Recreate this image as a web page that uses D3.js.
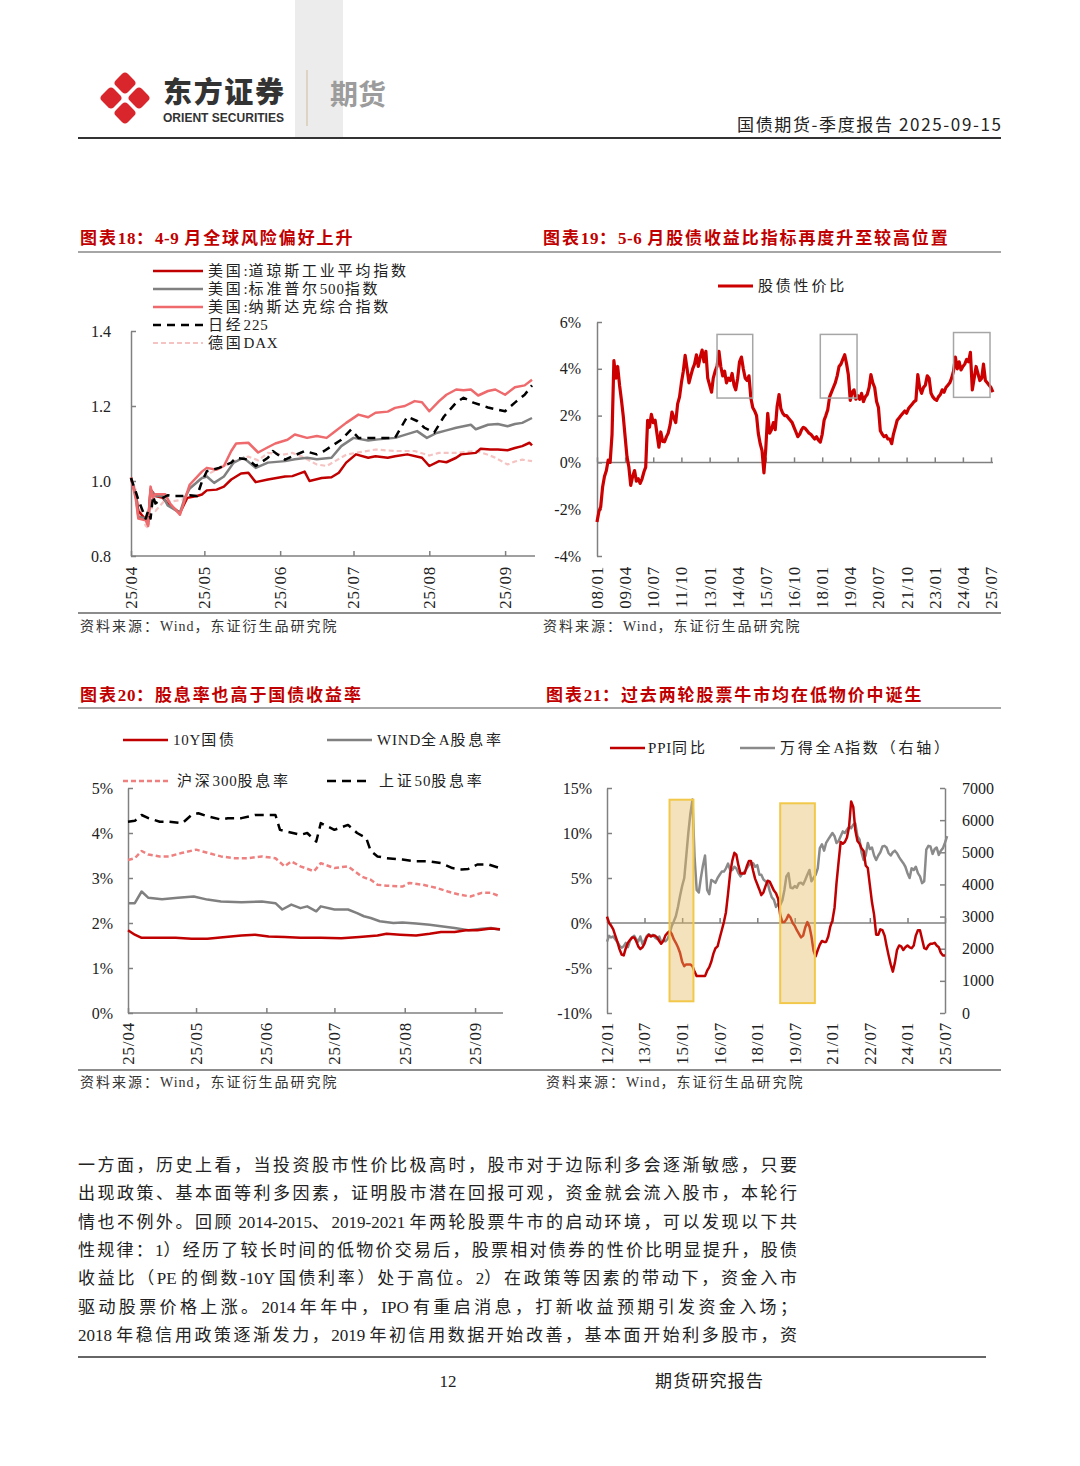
<!DOCTYPE html>
<html><head><meta charset="utf-8">
<script src="https://cdn.jsdelivr.net/npm/d3@7"></script>
<style>body{margin:0;background:#fff;}svg{display:block;}</style>
</head><body>
<script>
// ---------------- DATA ----------------
const c18Names = ["美国:道琼斯工业平均指数","美国:标准普尔500指数","美国:纳斯达克综合指数","日经225","德国DAX"];
const c18Ticks = ["25/04","25/05","25/06","25/07","25/08","25/09"];
const c18YTicks = [0.8,1.0,1.2,1.4];
const dowJones = [["2025-04-01",1.008],["2025-04-03",0.96],["2025-04-04",0.92],["2025-04-07",0.897],["2025-04-08",0.893],["2025-04-09",0.977],["2025-04-11",0.96],["2025-04-14",0.955],["2025-04-16",0.94],["2025-04-21",0.915],["2025-04-24",0.955],["2025-04-28",0.96],["2025-04-30",0.964],["2025-05-02",0.975],["2025-05-06",0.977],["2025-05-09",0.985],["2025-05-12",1.004],["2025-05-14",1.012],["2025-05-16",1.02],["2025-05-19",1.022],["2025-05-22",0.997],["2025-05-27",1.004],["2025-06-03",1.012],["2025-06-06",1.013],["2025-06-11",1.025],["2025-06-13",1.0],["2025-06-18",1.008],["2025-06-22",1.01],["2025-06-25",1.022],["2025-06-28",1.049],["2025-07-02",1.071],["2025-07-07",1.062],["2025-07-10",1.066],["2025-07-15",1.062],["2025-07-18",1.066],["2025-07-23",1.071],["2025-07-29",1.062],["2025-08-01",1.04],["2025-08-05",1.053],["2025-08-08",1.05],["2025-08-12",1.062],["2025-08-14",1.071],["2025-08-20",1.075],["2025-08-22",1.086],["2025-08-26",1.084],["2025-08-29",1.084],["2025-09-02",1.082],["2025-09-05",1.088],["2025-09-08",1.093],["2025-09-11",1.102],["2025-09-12",1.095]];
const sp500 = [["2025-04-01",1.008],["2025-04-03",0.96],["2025-04-04",0.905],["2025-04-07",0.9],["2025-04-08",0.885],["2025-04-09",0.975],["2025-04-11",0.96],["2025-04-14",0.96],["2025-04-16",0.935],["2025-04-21",0.915],["2025-04-23",0.955],["2025-04-25",0.98],["2025-04-30",1.008],["2025-05-02",1.012],["2025-05-05",0.995],["2025-05-09",1.012],["2025-05-13",1.049],["2025-05-17",1.062],["2025-05-22",1.035],["2025-05-27",1.049],["2025-06-03",1.053],["2025-06-07",1.058],["2025-06-12",1.062],["2025-06-16",1.058],["2025-06-22",1.062],["2025-06-26",1.093],["2025-07-01",1.115],["2025-07-07",1.108],["2025-07-11",1.111],["2025-07-18",1.115],["2025-07-23",1.125],["2025-07-27",1.133],["2025-07-31",1.115],["2025-08-04",1.128],["2025-08-08",1.135],["2025-08-12",1.142],["2025-08-18",1.15],["2025-08-20",1.138],["2025-08-25",1.15],["2025-08-29",1.152],["2025-09-02",1.146],["2025-09-05",1.152],["2025-09-08",1.155],["2025-09-12",1.168]];
const nasdaq = [["2025-04-01",1.01],["2025-04-03",0.95],["2025-04-04",0.9],["2025-04-07",0.895],["2025-04-08",0.88],["2025-04-09",0.985],["2025-04-10",0.955],["2025-04-11",0.965],["2025-04-15",0.965],["2025-04-17",0.94],["2025-04-21",0.91],["2025-04-23",0.95],["2025-04-25",0.99],["2025-04-30",1.025],["2025-05-02",1.035],["2025-05-06",1.03],["2025-05-09",1.04],["2025-05-12",1.08],["2025-05-14",1.1],["2025-05-19",1.102],["2025-05-23",1.076],["2025-05-27",1.09],["2025-05-30",1.1],["2025-06-04",1.11],["2025-06-07",1.124],["2025-06-12",1.115],["2025-06-16",1.12],["2025-06-20",1.115],["2025-06-23",1.13],["2025-06-28",1.155],["2025-07-03",1.177],["2025-07-07",1.17],["2025-07-10",1.182],["2025-07-15",1.185],["2025-07-18",1.195],["2025-07-22",1.2],["2025-07-26",1.213],["2025-07-29",1.21],["2025-08-01",1.186],["2025-08-05",1.213],["2025-08-08",1.23],["2025-08-12",1.244],["2025-08-15",1.242],["2025-08-18",1.244],["2025-08-21",1.228],["2025-08-25",1.24],["2025-08-28",1.244],["2025-09-01",1.23],["2025-09-05",1.25],["2025-09-09",1.255],["2025-09-12",1.27]];
const nikkei = [["2025-04-01",1.008],["2025-04-03",0.97],["2025-04-04",0.95],["2025-04-07",0.9],["2025-04-08",0.92],["2025-04-09",0.9],["2025-04-10",0.96],["2025-04-11",0.94],["2025-04-14",0.955],["2025-04-16",0.962],["2025-04-18",0.96],["2025-04-22",0.96],["2025-04-25",0.962],["2025-04-28",0.96],["2025-04-30",0.998],["2025-05-02",1.026],["2025-05-07",1.035],["2025-05-12",1.049],["2025-05-14",1.062],["2025-05-19",1.057],["2025-05-22",1.04],["2025-05-27",1.062],["2025-05-29",1.08],["2025-06-03",1.057],["2025-06-11",1.08],["2025-06-16",1.071],["2025-06-19",1.08],["2025-06-26",1.11],["2025-06-30",1.137],["2025-07-03",1.115],["2025-07-11",1.115],["2025-07-18",1.115],["2025-07-23",1.172],["2025-07-27",1.16],["2025-07-30",1.142],["2025-08-03",1.129],["2025-08-07",1.172],["2025-08-12",1.209],["2025-08-15",1.222],["2025-08-19",1.209],["2025-08-25",1.196],["2025-09-01",1.186],["2025-09-05",1.209],["2025-09-09",1.23],["2025-09-12",1.255]];
const dax = [["2025-04-01",1.008],["2025-04-03",0.975],["2025-04-04",0.94],["2025-04-07",0.88],["2025-04-08",0.875],["2025-04-09",0.93],["2025-04-11",0.92],["2025-04-15",0.95],["2025-04-17",0.945],["2025-04-22",0.95],["2025-04-25",0.98],["2025-04-30",1.01],["2025-05-06",1.03],["2025-05-12",1.05],["2025-05-14",1.055],["2025-05-19",1.065],["2025-05-23",1.055],["2025-05-27",1.075],["2025-06-02",1.07],["2025-06-06",1.075],["2025-06-10",1.065],["2025-06-16",1.044],["2025-06-20",1.04],["2025-06-24",1.055],["2025-06-28",1.07],["2025-07-02",1.075],["2025-07-10",1.084],["2025-07-18",1.08],["2025-07-26",1.08],["2025-08-01",1.068],["2025-08-05",1.075],["2025-08-12",1.075],["2025-08-20",1.08],["2025-08-25",1.07],["2025-08-28",1.062],["2025-09-02",1.044],["2025-09-05",1.052],["2025-09-08",1.057],["2025-09-12",1.053]];

const c19Name = "股债性价比";
const c19Ticks = ["08/01","09/04","10/07","11/10","13/01","14/04","15/07","16/10","18/01","19/04","20/07","21/10","23/01","24/04","25/07"];
const c19YTicks = [-4,-2,0,2,4,6];
const stockBondRatio = [["2008-01",-2.55],["2008-02",-2.1],["2008-03",-1.9],["2008-04",-1.05],["2008-05",-0.6],["2008-06",-0.35],["2008-07",0.1],["2008-08",0.0],["2008-09",1.2],["2008-10",4.35],["2008-11",3.6],["2008-12",4.1],["2009-01",3.3],["2009-02",2.65],["2009-03",2.0],["2009-04",1.1],["2009-05",0.25],["2009-06",-0.2],["2009-07",-0.98],["2009-08",-0.6],["2009-09",-0.35],["2009-10",-0.8],["2009-11",-0.7],["2009-12",-0.9],["2010-01",-0.7],["2010-02",-0.4],["2010-03",-0.2],["2010-04",1.8],["2010-05",1.5],["2010-06",2.05],["2010-07",1.7],["2010-08",1.8],["2010-09",1.2],["2010-10",0.65],["2010-11",1.3],["2010-12",0.9],["2011-01",0.88],["2011-02",1.1],["2011-03",1.25],["2011-04",1.6],["2011-05",2.15],["2011-06",1.9],["2011-07",1.7],["2011-08",2.5],["2011-09",2.8],["2011-10",3.4],["2011-11",3.9],["2011-12",4.57],["2012-01",4.0],["2012-02",3.4],["2012-03",3.7],["2012-04",4.0],["2012-05",4.2],["2012-06",4.6],["2012-07",4.1],["2012-08",4.5],["2012-09",4.8],["2012-10",4.3],["2012-11",4.75],["2012-12",3.6],["2013-01",3.3],["2013-02",3.0],["2013-03",3.6],["2013-04",3.9],["2013-05",4.1],["2013-06",4.75],["2013-07",4.1],["2013-08",3.7],["2013-09",3.9],["2013-10",3.4],["2013-11",3.6],["2013-12",3.5],["2014-01",3.8],["2014-02",3.3],["2014-03",3.1],["2014-04",3.6],["2014-05",4.3],["2014-06",4.5],["2014-07",4.0],["2014-08",3.6],["2014-09",3.5],["2014-10",3.7],["2014-11",2.75],["2014-12",2.35],["2015-01",2.2],["2015-02",2.0],["2015-03",1.25],["2015-04",0.8],["2015-05",0.5],["2015-06",-0.45],["2015-07",0.6],["2015-08",2.1],["2015-09",1.25],["2015-10",1.4],["2015-11",1.7],["2015-12",1.4],["2016-01",2.4],["2016-02",2.9],["2016-03",2.3],["2016-04",2.1],["2016-05",2.0],["2016-06",2.0],["2016-07",1.9],["2016-08",1.8],["2016-09",1.7],["2016-10",1.5],["2016-11",1.3],["2016-12",1.1],["2017-01",1.2],["2017-02",1.4],["2017-03",1.5],["2017-04",1.45],["2017-05",1.35],["2017-06",1.25],["2017-07",1.2],["2017-08",1.1],["2017-09",1.0],["2017-10",1.1],["2017-11",0.95],["2017-12",0.87],["2018-01",1.2],["2018-02",1.8],["2018-03",2.0],["2018-04",2.25],["2018-05",2.8],["2018-06",3.0],["2018-07",3.2],["2018-08",3.4],["2018-09",3.7],["2018-10",4.1],["2018-11",4.2],["2018-12",4.4],["2019-01",4.6],["2019-02",4.2],["2019-03",3.75],["2019-04",2.65],["2019-05",3.0],["2019-06",3.1],["2019-07",2.7],["2019-08",2.85],["2019-09",2.7],["2019-10",2.95],["2019-11",2.6],["2019-12",2.8],["2020-01",2.9],["2020-02",3.2],["2020-03",3.75],["2020-04",3.4],["2020-05",3.2],["2020-06",2.6],["2020-07",2.35],["2020-08",1.35],["2020-09",1.2],["2020-10",1.1],["2020-11",1.15],["2020-12",1.0],["2021-01",1.0],["2021-02",0.8],["2021-03",1.2],["2021-04",1.5],["2021-05",1.8],["2021-06",1.9],["2021-07",2.0],["2021-08",2.1],["2021-09",2.2],["2021-10",2.1],["2021-11",2.3],["2021-12",2.4],["2022-01",2.5],["2022-02",2.6],["2022-03",2.65],["2022-04",3.75],["2022-05",3.2],["2022-06",2.95],["2022-07",3.2],["2022-08",3.3],["2022-09",3.7],["2022-10",3.6],["2022-11",2.95],["2022-12",2.8],["2023-01",2.7],["2023-02",2.65],["2023-03",2.8],["2023-04",2.9],["2023-05",3.1],["2023-06",3.0],["2023-07",3.2],["2023-08",3.3],["2023-09",3.4],["2023-10",3.6],["2023-11",3.9],["2023-12",4.5],["2024-01",4.0],["2024-02",4.3],["2024-03",3.95],["2024-04",4.1],["2024-05",4.2],["2024-06",4.4],["2024-07",4.3],["2024-08",4.7],["2024-09",3.1],["2024-10",3.6],["2024-11",4.1],["2024-12",3.8],["2025-01",3.5],["2025-02",3.6],["2025-03",4.2],["2025-04",3.5],["2025-05",3.4],["2025-06",3.3],["2025-07",3.2],["2025-08",3.0]];
const c19Boxes = [["2013-05-01","2014-12-01",2.75,5.47],["2017-12-01","2019-07-20",2.75,5.47],["2023-11-01","2025-06-15",2.78,5.55]];

const c20Names = ["10Y国债","WIND全A股息率","沪深300股息率","上证50股息率"];
const c20Ticks = ["25/04","25/05","25/06","25/07","25/08","25/09"];
const c20YTicks = [0,1,2,3,4,5];
const bond10y = [["2025-04-01",1.84],["2025-04-04",1.74],["2025-04-07",1.67],["2025-04-13",1.67],["2025-04-22",1.67],["2025-04-29",1.65],["2025-05-06",1.65],["2025-05-14",1.69],["2025-05-21",1.72],["2025-05-27",1.74],["2025-06-02",1.7],["2025-06-09",1.69],["2025-06-16",1.67],["2025-06-25",1.67],["2025-07-04",1.66],["2025-07-12",1.69],["2025-07-20",1.72],["2025-07-24",1.76],["2025-07-30",1.74],["2025-08-06",1.72],["2025-08-12",1.76],["2025-08-17",1.8],["2025-08-23",1.8],["2025-08-28",1.84],["2025-09-02",1.84],["2025-09-08",1.88],["2025-09-12",1.86]];
const windADiv = [["2025-04-01",2.44],["2025-04-04",2.44],["2025-04-07",2.7],["2025-04-10",2.56],["2025-04-16",2.53],["2025-04-23",2.56],["2025-04-30",2.59],["2025-05-06",2.52],["2025-05-12",2.48],["2025-05-21",2.46],["2025-05-30",2.48],["2025-06-05",2.44],["2025-06-08",2.3],["2025-06-12",2.41],["2025-06-16",2.33],["2025-06-19",2.37],["2025-06-23",2.26],["2025-06-25",2.37],["2025-07-01",2.3],["2025-07-07",2.3],["2025-07-11",2.22],["2025-07-14",2.15],["2025-07-17",2.11],["2025-07-21",2.04],["2025-07-27",2.0],["2025-07-31",2.01],["2025-08-06",1.99],["2025-08-12",1.96],["2025-08-17",1.93],["2025-08-23",1.89],["2025-08-29",1.84],["2025-09-04",1.87],["2025-09-08",1.89],["2025-09-12",1.85]];
const csi300Div = [["2025-04-01",3.4],["2025-04-04",3.44],["2025-04-07",3.6],["2025-04-10",3.52],["2025-04-15",3.48],["2025-04-19",3.48],["2025-04-25",3.56],["2025-05-01",3.63],["2025-05-06",3.56],["2025-05-12",3.48],["2025-05-18",3.44],["2025-05-24",3.44],["2025-05-30",3.48],["2025-06-05",3.44],["2025-06-09",3.26],["2025-06-12",3.37],["2025-06-16",3.26],["2025-06-22",3.15],["2025-06-25",3.33],["2025-07-01",3.22],["2025-07-07",3.26],["2025-07-11",3.11],["2025-07-13",3.03],["2025-07-17",2.96],["2025-07-20",2.85],["2025-07-24",2.83],["2025-07-31",2.81],["2025-08-03",2.89],["2025-08-09",2.85],["2025-08-15",2.78],["2025-08-20",2.7],["2025-08-25",2.63],["2025-08-30",2.59],["2025-09-04",2.67],["2025-09-08",2.67],["2025-09-12",2.59]];
const sse50Div = [["2025-04-01",4.25],["2025-04-04",4.27],["2025-04-07",4.4],["2025-04-10",4.33],["2025-04-15",4.25],["2025-04-19",4.25],["2025-04-25",4.22],["2025-04-29",4.4],["2025-05-02",4.44],["2025-05-06",4.37],["2025-05-12",4.3],["2025-05-15",4.33],["2025-05-21",4.33],["2025-05-27",4.4],["2025-06-05",4.4],["2025-06-07",4.07],["2025-06-10",4.03],["2025-06-16",3.96],["2025-06-19",4.0],["2025-06-23",3.81],["2025-06-25",4.22],["2025-07-01",4.07],["2025-07-07",4.18],["2025-07-11",4.0],["2025-07-15",3.89],["2025-07-17",3.6],["2025-07-20",3.48],["2025-07-24",3.44],["2025-07-31",3.41],["2025-08-06",3.37],["2025-08-12",3.37],["2025-08-17",3.33],["2025-08-22",3.22],["2025-08-26",3.19],["2025-08-29",3.2],["2025-09-02",3.3],["2025-09-07",3.3],["2025-09-12",3.22]];

const c21Names = ["PPI同比","万得全A指数（右轴）"];
const c21Ticks = ["12/01","13/07","15/01","16/07","18/01","19/07","21/01","22/07","24/01","25/07"];
const c21YLTicks = [-10,-5,0,5,10,15];
const c21YRTicks = [0,1000,2000,3000,4000,5000,6000,7000];
const ppi = [["2012-01",0.7],["2012-02",0.0],["2012-03",-0.3],["2012-04",-0.7],["2012-05",-1.4],["2012-06",-2.1],["2012-07",-2.9],["2012-08",-3.5],["2012-09",-3.6],["2012-10",-2.8],["2012-11",-2.2],["2012-12",-1.9],["2013-01",-1.6],["2013-02",-1.6],["2013-03",-2.0],["2013-04",-2.6],["2013-05",-2.9],["2013-06",-2.7],["2013-07",-2.3],["2013-08",-1.6],["2013-09",-1.3],["2013-10",-1.5],["2013-11",-1.4],["2013-12",-1.4],["2014-01",-1.6],["2014-02",-2.0],["2014-03",-2.3],["2014-04",-2.0],["2014-05",-1.4],["2014-06",-1.1],["2014-07",-0.9],["2014-08",-1.2],["2014-09",-1.8],["2014-10",-2.2],["2014-11",-2.7],["2014-12",-3.3],["2015-01",-4.3],["2015-02",-4.8],["2015-03",-4.6],["2015-04",-4.6],["2015-05",-4.6],["2015-06",-4.8],["2015-07",-5.4],["2015-08",-5.9],["2015-09",-5.9],["2015-10",-5.9],["2015-11",-5.9],["2015-12",-5.9],["2016-01",-5.3],["2016-02",-4.9],["2016-03",-4.3],["2016-04",-3.4],["2016-05",-2.8],["2016-06",-2.6],["2016-07",-1.7],["2016-08",-0.8],["2016-09",0.1],["2016-10",1.2],["2016-11",3.3],["2016-12",5.5],["2017-01",6.9],["2017-02",7.8],["2017-03",7.6],["2017-04",6.4],["2017-05",5.5],["2017-06",5.5],["2017-07",5.5],["2017-08",6.3],["2017-09",6.9],["2017-10",6.9],["2017-11",5.8],["2017-12",4.9],["2018-01",4.3],["2018-02",3.7],["2018-03",3.1],["2018-04",3.4],["2018-05",4.1],["2018-06",4.7],["2018-07",4.6],["2018-08",4.1],["2018-09",3.6],["2018-10",3.3],["2018-11",2.7],["2018-12",0.9],["2019-01",0.1],["2019-02",0.1],["2019-03",0.4],["2019-04",0.9],["2019-05",0.6],["2019-06",0.0],["2019-07",-0.3],["2019-08",-0.8],["2019-09",-1.2],["2019-10",-1.6],["2019-11",-1.4],["2019-12",-0.5],["2020-01",0.1],["2020-02",-0.4],["2020-03",-1.5],["2020-04",-3.1],["2020-05",-3.7],["2020-06",-3.0],["2020-07",-2.4],["2020-08",-2.0],["2020-09",-2.1],["2020-10",-2.1],["2020-11",-1.5],["2020-12",-0.4],["2021-01",0.3],["2021-02",1.7],["2021-03",4.4],["2021-04",6.8],["2021-05",9.0],["2021-06",8.8],["2021-07",9.0],["2021-08",9.5],["2021-09",10.7],["2021-10",13.5],["2021-11",12.9],["2021-12",10.3],["2022-01",9.1],["2022-02",8.8],["2022-03",8.3],["2022-04",8.0],["2022-05",6.4],["2022-06",6.1],["2022-07",4.2],["2022-08",2.3],["2022-09",0.9],["2022-10",-1.3],["2022-11",-1.3],["2022-12",-0.7],["2023-01",-0.8],["2023-02",-1.4],["2023-03",-2.5],["2023-04",-3.6],["2023-05",-4.6],["2023-06",-5.4],["2023-07",-4.4],["2023-08",-3.0],["2023-09",-2.5],["2023-10",-2.6],["2023-11",-3.0],["2023-12",-2.7],["2024-01",-2.5],["2024-02",-2.7],["2024-03",-2.8],["2024-04",-2.5],["2024-05",-1.4],["2024-06",-0.8],["2024-07",-0.8],["2024-08",-1.8],["2024-09",-2.8],["2024-10",-2.9],["2024-11",-2.5],["2024-12",-2.3],["2025-01",-2.3],["2025-02",-2.2],["2025-03",-2.5],["2025-04",-2.7],["2025-05",-3.3],["2025-06",-3.6],["2025-07",-3.6]];
const windAIndex = [["2012-01",2220],["2012-02",2400],["2012-03",2350],["2012-04",2380],["2012-05",2290],["2012-06",2200],["2012-07",2100],["2012-08",2030],["2012-09",2080],["2012-10",2180],["2012-11",2050],["2012-12",2250],["2013-01",2350],["2013-02",2400],["2013-03",2300],["2013-04",2220],["2013-05",2380],["2013-06",2150],["2013-07",2250],["2013-08",2390],["2013-09",2450],["2013-10",2400],["2013-11",2430],["2013-12",2350],["2014-01",2300],["2014-02",2380],["2014-03",2220],["2014-04",2250],["2014-05",2230],["2014-06",2300],["2014-07",2450],["2014-08",2700],["2014-09",2850],["2014-10",3010],["2014-11",3300],["2014-12",3640],["2015-01",3950],["2015-02",4200],["2015-03",4860],["2015-04",5600],["2015-05",6200],["2015-06",6640],["2015-07",4860],["2015-08",3830],["2015-09",3750],["2015-10",4200],["2015-11",4600],["2015-12",4900],["2016-01",3830],["2016-02",3700],["2016-03",4140],["2016-04",4100],["2016-05",4050],["2016-06",4200],["2016-07",4300],["2016-08",4400],["2016-09",4400],["2016-10",4500],["2016-11",4650],["2016-12",4450],["2017-01",4450],["2017-02",4550],["2017-03",4500],["2017-04",4350],["2017-05",4250],["2017-06",4350],["2017-07",4400],["2017-08",4500],["2017-09",4600],["2017-10",4650],["2017-11",4660],["2017-12",4550],["2018-01",4600],["2018-02",4300],["2018-03",4300],["2018-04",4150],["2018-05",4100],["2018-06",4040],["2018-07",3800],["2018-08",3600],["2018-09",3520],["2018-10",3300],["2018-11",3400],["2018-12",3360],["2019-01",3500],["2019-02",3830],["2019-03",4250],["2019-04",4350],["2019-05",3900],["2019-06",3880],["2019-07",3950],["2019-08",3900],["2019-09",4040],["2019-10",4050],["2019-11",4000],["2019-12",4140],["2020-01",4300],["2020-02",4450],["2020-03",4100],["2020-04",4200],["2020-05",4300],["2020-06",4500],["2020-07",5130],["2020-08",5250],["2020-09",5050],["2020-10",5290],["2020-11",5400],["2020-12",5500],["2021-01",5600],["2021-02",5500],["2021-03",5290],["2021-04",5350],["2021-05",5500],["2021-06",5650],["2021-07",5600],["2021-08",5700],["2021-09",5800],["2021-10",5750],["2021-11",5860],["2021-12",5900],["2022-01",5500],["2022-02",5390],["2022-03",5000],["2022-04",4760],["2022-05",4900],["2022-06",5290],["2022-07",5100],["2022-08",5150],["2022-09",4900],["2022-10",4760],["2022-11",4900],["2022-12",5000],["2023-01",5180],["2023-02",5200],["2023-03",5150],["2023-04",4970],["2023-05",4900],["2023-06",5000],["2023-07",5050],["2023-08",4970],["2023-09",4850],["2023-10",4750],["2023-11",4660],["2023-12",4550],["2024-01",4350],["2024-02",4200],["2024-03",4500],["2024-04",4450],["2024-05",4550],["2024-06",4350],["2024-07",4250],["2024-08",4040],["2024-09",4100],["2024-10",5080],["2024-11",5200],["2024-12",5180],["2025-01",4950],["2025-02",5100],["2025-03",5150],["2025-04",4920],["2025-05",5050],["2025-06",5130],["2025-07",5300],["2025-08",5500]];
const c21Boxes = [["2014-07-01","2015-06-15",-8.7,13.7],["2018-12-01","2020-04-20",-8.9,13.3]];

const titles = ["图表18：4-9 月全球风险偏好上升","图表19：5-6 月股债收益比指标再度升至较高位置","图表20：股息率也高于国债收益率","图表21：过去两轮股票牛市均在低物价中诞生"];
const sourceText = "资料来源：Wind，东证衍生品研究院";
const bodyLines = [
"一方面，历史上看，当投资股市性价比极高时，股市对于边际利多会逐渐敏感，只要",
"出现政策、基本面等利多因素，证明股市潜在回报可观，资金就会流入股市，本轮行",
"情也不例外。回顾 2014-2015、2019-2021 年两轮股票牛市的启动环境，可以发现以下共",
"性规律：1）经历了较长时间的低物价交易后，股票相对债券的性价比明显提升，股债",
"收益比（PE 的倒数-10Y 国债利率）处于高位。2）在政策等因素的带动下，资金入市",
"驱动股票价格上涨。2014 年年中，IPO 有重启消息，打新收益预期引发资金入场；",
"2018 年稳信用政策逐渐发力，2019 年初信用数据开始改善，基本面开始利多股市，资"];

// ---------------- RENDER ----------------
const W=1080,H=1466;
const svg=d3.select('body').append('svg').attr('width',W).attr('height',H);
svg.append('rect').attr('width',W).attr('height',H).attr('fill','#fff');
const SERIF='"Liberation Serif","Noto Sans CJK SC",serif';
const CJK='"Noto Sans CJK SC",sans-serif';
const pd=s=>s.length===7?d3.timeParse('%Y-%m')(s):d3.timeParse('%Y-%m-%d')(s);
const td=s=>{const [a,b]=s.split('/');return new Date(2000+ +a,+b-1,1);};
const AX='#808080';
const CJRE=/([\u2E80-\u9FFF\u3000-\u303F\uFF00-\uFFEF]+)|([^\u2E80-\u9FFF\u3000-\u303F\uFF00-\uFFEF]+)/g;
function rich(t,str,cs,ls){let m;CJRE.lastIndex=0;while((m=CJRE.exec(str))){t.append('tspan').attr('class',m[1]?'cj':'lt').attr('letter-spacing',m[1]?cs:ls).text(m[0]);}return t;}

// header
svg.append('rect').attr('x',295).attr('y',0).attr('width',48).attr('height',137).attr('fill','#ececec');
const logo=svg.append('g').attr('transform','translate(125,98)');
[[0,-15],[-14,0],[14,0],[0,15]].forEach(([dx,dy])=>logo.append('rect').attr('x',-8.5).attr('y',-8.5).attr('width',17).attr('height',17).attr('rx',4)
  .attr('fill','#d9262c').attr('transform',`translate(${dx},${dy}) rotate(45)`));
svg.append('text').attr('x',163).attr('y',103).attr('font-family',CJK).attr('font-weight',900).attr('font-size',29).attr('fill','#333').attr('textLength',121).text('东方证券');
svg.append('text').attr('x',163).attr('y',122).attr('font-family','"Liberation Sans",sans-serif').attr('font-weight',700).attr('font-size',12).attr('fill','#333').attr('textLength',121).attr('lengthAdjust','spacingAndGlyphs').text('ORIENT SECURITIES');
svg.append('line').attr('x1',307).attr('x2',307).attr('y1',70).attr('y2',126).attr('stroke','#cdbb98').attr('stroke-width',1);
svg.append('text').attr('x',330).attr('y',105).attr('font-family',CJK).attr('font-weight',700).attr('font-size',28).attr('fill','#9c9c9c').text('期货');
svg.append('text').attr('x',1001).attr('y',131).attr('text-anchor','end').attr('font-family',CJK).attr('font-size',17).attr('fill','#222').attr('textLength',264).text('国债期货-季度报告 2025-09-15');
svg.append('line').attr('x1',78).attr('x2',1001).attr('y1',138).attr('y2',138).attr('stroke','#333').attr('stroke-width',2);

// section frames
function title(x,y,t){rich(svg.append('text').attr('x',x).attr('y',y).attr('font-family',SERIF).attr('font-weight',700).attr('font-size',17).attr('fill','#c00000'),t,1.9,0.6);}
function hline(y,c,w){svg.append('line').attr('x1',78).attr('x2',1001).attr('y1',y).attr('y2',y).attr('stroke',c).attr('stroke-width',w);}
function source(x,y){rich(svg.append('text').attr('x',x).attr('y',y).attr('font-family',SERIF).attr('font-size',14).attr('fill','#333'),sourceText,2.0,1.0);}
title(80,244,titles[0]); title(543,244,titles[1]); title(80,701,titles[2]); title(546,701,titles[3]);
hline(252,'#888',1.5); hline(613,'#666',1.5); hline(708,'#888',1.5); hline(1070,'#666',1.5);
source(80,631); source(543,631); source(80,1087); source(546,1087);

function styleAxis(a){a.select('.domain').attr('stroke',AX).attr('stroke-width',1.5);
  a.selectAll('.tick line').attr('stroke',AX).attr('stroke-width',1.5);
  a.selectAll('.tick text').attr('font-family',SERIF).attr('font-size',16).attr('fill','#222');}
function yLeft(scale,x,ticks,fmt,pad){const a=svg.append('g').attr('transform',`translate(${x},0)`)
  .call(d3.axisLeft(scale).tickValues(ticks).tickFormat(fmt).tickSizeInner(-5).tickSizeOuter(0).tickPadding(pad));styleAxis(a);return a;}
function xBottom(scale,y,ticks,x0,x1){const a=svg.append('g').attr('transform',`translate(0,${y})`)
  .call(d3.axisBottom(scale).tickValues(ticks.map(td)).tickFormat('').tickSizeInner(-5).tickSizeOuter(0));
  styleAxis(a);a.select('.domain').remove();
  svg.append('line').attr('x1',x0).attr('x2',x1).attr('y1',y).attr('y2',y).attr('stroke',AX).attr('stroke-width',1.5);}
function xLabels(scale,ticks,yTop){svg.append('g').selectAll('text').data(ticks).join('text')
  .attr('transform',d=>`translate(${scale(td(d))},${yTop}) rotate(-90)`).attr('text-anchor','end').attr('dy','0.35em')
  .attr('font-family',SERIF).attr('font-size',17).attr('letter-spacing',0.8).attr('fill','#222').text(d=>d);}
function drawLine(data,x,y,color,w,dash){const p=svg.append('path').datum(data).attr('fill','none').attr('stroke',color).attr('stroke-width',w)
  .attr('stroke-linejoin','round').attr('d',d3.line().x(d=>x(pd(d[0]))).y(d=>y(d[1])));if(dash)p.attr('stroke-dasharray',dash);return p;}
function legend(x1,x2,y,color,w,dash,txt,tx){const l=svg.append('line').attr('x1',x1).attr('x2',x2).attr('y1',y).attr('y2',y).attr('stroke',color).attr('stroke-width',w);
  if(dash)l.attr('stroke-dasharray',dash);
  rich(svg.append('text').attr('x',tx).attr('y',y).attr('dy','0.35em').attr('font-family',SERIF).attr('font-size',15).attr('fill','#222'),txt,2.8,0.8);}

// ---- chart 18
{
const x=d3.scaleTime().domain([new Date(2025,3,1),new Date(2025,8,12)]).range([131,532]);
const y=d3.scaleLinear().domain([0.8,1.4]).range([556,331]);
yLeft(y,131,c18YTicks,d3.format('.1f'),20);
xBottom(x,556,c18Ticks,131,535); xLabels(x,c18Ticks,566);
const st=[[dowJones,'#c00000',2.5,null],[sp500,'#808080',2.5,null],[nasdaq,'#ee6a6c',2.5,null],[nikkei,'#000',2.5,'8,6'],[dax,'#f6c3c3',2.2,'5,3']];
drawLine(dax,x,y,st[4][1],st[4][2],st[4][3]);
drawLine(dowJones,x,y,st[0][1],st[0][2]);
drawLine(sp500,x,y,st[1][1],st[1][2]);
drawLine(nasdaq,x,y,st[2][1],st[2][2]);
drawLine(nikkei,x,y,st[3][1],st[3][2],st[3][3]);
c18Names.forEach((n,i)=>legend(153,203,271+18*i,st[i][1],st[i][2],st[i][3],n,208));
}
// ---- chart 19
{
const x=d3.scaleTime().domain([new Date(2008,0,1),new Date(2025,6,1)]).range([597,991]);
const y=d3.scaleLinear().domain([-4,6]).range([556,322]);
yLeft(y,597,c19YTicks,d=>d+'%',16);
xBottom(x,y(0),c19Ticks,597,993); xLabels(x,c19Ticks,566);
drawLine(stockBondRatio,x,y,'#cc0000',3.2);
svg.append('g').selectAll('rect').data(c19Boxes).join('rect')
  .attr('x',d=>x(pd(d[0]))).attr('width',d=>x(pd(d[1]))-x(pd(d[0]))).attr('y',d=>y(d[3])).attr('height',d=>y(d[2])-y(d[3]))
  .attr('fill','none').attr('stroke','#a6a6a6').attr('stroke-width',1.5);
legend(718,753,286,'#cc0000',3,null,c19Name,758);
}
// ---- chart 20
{
const x=d3.scaleTime().domain([new Date(2025,3,1),new Date(2025,8,12)]).range([128,500]);
const y=d3.scaleLinear().domain([0,5]).range([1013,788]);
yLeft(y,128,c20YTicks,d=>d+'%',15);
xBottom(x,1013,c20Ticks,128,503); xLabels(x,c20Ticks,1022);
drawLine(sse50Div,x,y,'#000',2.5,'9,6');
drawLine(csi300Div,x,y,'#ef8080',2.5,'5,3');
drawLine(windADiv,x,y,'#808080',2.5);
drawLine(bond10y,x,y,'#c00000',2.5);
legend(123,168,740,'#c00000',2.5,null,c20Names[0],173);
legend(327,372,740,'#808080',2.5,null,c20Names[1],377);
legend(123,168,781,'#ef8080',2.5,'5,3',c20Names[2],177);
legend(327,372,781,'#000',2.5,'9,6',c20Names[3],379);
}
// ---- chart 21
{
const x=d3.scaleTime().domain([new Date(2012,0,1),new Date(2025,6,1)]).range([607,945]);
const yl=d3.scaleLinear().domain([-10,15]).range([1013,788]);
const yr=d3.scaleLinear().domain([0,7000]).range([1013,788]);
yLeft(yl,607,c21YLTicks,d=>d+'%',15);
const ar=svg.append('g').attr('transform','translate(945,0)').call(d3.axisRight(yr).tickValues(c21YRTicks).tickFormat(d3.format('d')).tickSizeInner(-5).tickSizeOuter(0).tickPadding(17));styleAxis(ar);
xBottom(x,yl(0),c21Ticks,607,945); xLabels(x,c21Ticks,1022);
drawLine(windAIndex,x,yr,'#8a8a8a',2.5);
drawLine(ppi,x,yl,'#c00000',2.5);
svg.append('g').selectAll('rect').data(c21Boxes).join('rect')
  .attr('x',d=>x(pd(d[0]))).attr('width',d=>x(pd(d[1]))-x(pd(d[0]))).attr('y',d=>yl(d[3])).attr('height',d=>yl(d[2])-yl(d[3]))
  .attr('fill','rgba(226,186,96,0.42)').attr('stroke','#f2c84a').attr('stroke-width',2);
legend(610,645,748,'#c00000',2.5,null,c21Names[0],648);
legend(740,775,748,'#8a8a8a',2.5,null,c21Names[1],780);
}
// body text (justified, extra spacing only between CJK glyphs)
bodyLines.forEach((t,i)=>{
  const tx=svg.append('text').attr('x',78).attr('y',1171+28.3*i).attr('font-family',SERIF).attr('font-size',17).attr('fill','#222');
  rich(tx,t,0,0);
  const w0=tx.node().getComputedTextLength();
  const chars=[...t]; const isC=c=>/[\u2E80-\u9FFF\u3000-\u303F\uFF00-\uFFEF]/.test(c);
  let n=chars.filter(isC).length; if(isC(chars[chars.length-1])) n-=1;
  const s=Math.max(0,(719-w0)/Math.max(1,n));
  tx.selectAll('tspan.cj').attr('letter-spacing',s);
});
// footer
svg.append('line').attr('x1',78).attr('x2',986).attr('y1',1357).attr('y2',1357).attr('stroke','#333').attr('stroke-width',1.5);
svg.append('text').attr('x',448).attr('y',1387).attr('text-anchor','middle').attr('font-family',SERIF).attr('font-size',17).attr('fill','#222').text('12');
svg.append('text').attr('x',655).attr('y',1387).attr('font-family',SERIF).attr('font-size',17).attr('letter-spacing',1.2).attr('fill','#222').text('期货研究报告');
</script>
</body></html>
